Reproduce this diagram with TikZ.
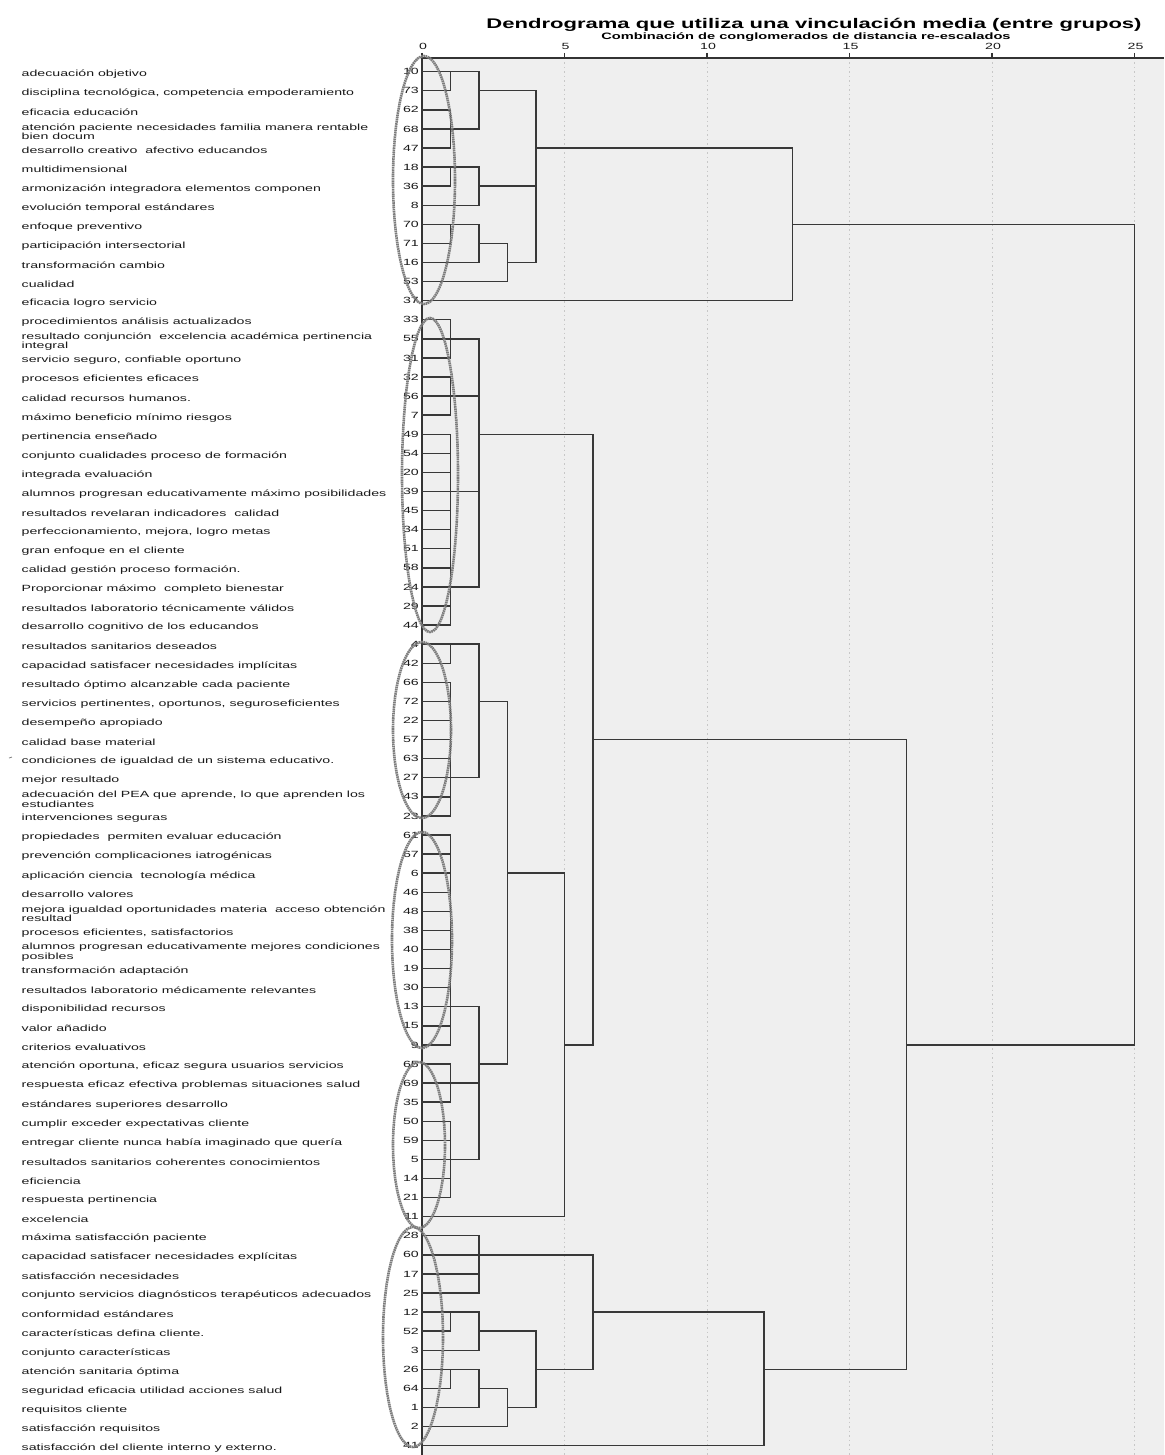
\documentclass[tikz,border=0pt]{standalone}
\usepackage{fontspec}
\setmainfont{Liberation Sans}[FakeStretch=1.58]
\definecolor{plotbg}{RGB}{239,239,239}
\definecolor{ringgray}{RGB}{125,125,125}
\tikzset{
  link/.style={draw=black!78, line width=1.4bp, line cap=rect},
  axisline/.style={draw=black!80, line width=1.3bp},
  gridline/.style={draw=black!22, line width=0.8bp, dash pattern=on 1.5bp off 3bp},
  idx/.style={anchor=east, inner sep=0pt, font=\fontsize{9}{9}\selectfont, text=black!90},
  lbl/.style={anchor=west, inner sep=0pt, align=left, font=\fontsize{9}{7.7}\selectfont, text=black!90},
  ticklbl/.style={inner sep=0pt, font=\fontsize{9}{9}\selectfont, text=black!90},
  ring/.style={draw=ringgray, line width=2.6bp, dash pattern=on 1.6bp off 0.6bp},
}
% one case: row, case number, first joining distance, text
\newcommand\leafrow[4]{%
  \node[idx] (n#2) at (419,{py(#1)}) {#2};
  \node[lbl] (t#2) at (21.5,{py(#1)+2.5}) {#4};
  \draw[link] ({px(0)},{py(#1)}) -- ({px(#3)},{py(#1)});
}
% one merge: distance, first row, last row, outgoing row, next distance
\newcommand\joinrows[5]{%
  \draw[link] ({px(#1)},{py(#2)}) -- ({px(#1)},{py(#3)});
  \draw[link] ({px(#1)},{py(#4)}) -- ({px(#5)},{py(#4)});
}
\begin{document}
\begin{tikzpicture}[x=1bp, y=-1bp,
  declare function={px(\d)=422+28.5*\d; py(\r)=71.7+19.083*(\r-1);}]
\useasboundingbox (0,0) rectangle (1164,1455);
\fill[white] (0,0) rectangle (1164,1455);
\fill[plotbg] (422,58) rectangle (1164,1455);

% title
\node[inner sep=0pt, font=\fontsize{14}{14}\selectfont\bfseries] (title) at (814,25)
  {Dendrograma que utiliza una vinculación media (entre grupos)};
\node[inner sep=0pt, font=\fontsize{9.3}{9.3}\selectfont\bfseries] (subtitle) at (806,37)
  {Combinación de conglomerados de distancia re-escalados};

% scale, grid and axes
\foreach \v in {5,10,15,20,25} \draw[gridline] ({px(\v)},58) -- ({px(\v)},1455);
\draw[axisline] (422,58) -- (1164,58);
\draw[axisline] (422,58) -- (422,1455);
\foreach \v in {0,5,10,15,20,25} {
  \draw[axisline] ({px(\v)},53) -- ({px(\v)},58);
  \node[ticklbl] (tick\v) at ({px(\v)+1},46) {\v};
}

% cases
\leafrow{1}{10}{1}{adecuación objetivo}
\leafrow{2}{73}{1}{disciplina tecnológica, competencia empoderamiento}
\leafrow{3}{62}{1}{eficacia educación}
\leafrow{4}{68}{1}{atención paciente necesidades familia manera rentable\\bien docum}
\leafrow{5}{47}{1}{desarrollo creativo\ \ afectivo educandos}
\leafrow{6}{18}{1}{multidimensional}
\leafrow{7}{36}{1}{armonización integradora elementos componen}
\leafrow{8}{8}{2}{evolución temporal estándares}
\leafrow{9}{70}{1}{enfoque preventivo}
\leafrow{10}{71}{1}{participación intersectorial}
\leafrow{11}{16}{2}{transformación cambio}
\leafrow{12}{53}{3}{cualidad}
\leafrow{13}{37}{13}{eficacia logro servicio}
\leafrow{14}{33}{1}{procedimientos análisis actualizados}
\leafrow{15}{55}{1}{resultado conjunción\ \ excelencia académica pertinencia\\integral}
\leafrow{16}{31}{1}{servicio seguro, confiable oportuno}
\leafrow{17}{32}{1}{procesos eficientes eficaces}
\leafrow{18}{56}{1}{calidad recursos humanos.}
\leafrow{19}{7}{1}{máximo beneficio mínimo riesgos}
\leafrow{20}{49}{1}{pertinencia enseñado}
\leafrow{21}{54}{1}{conjunto cualidades proceso de formación}
\leafrow{22}{20}{1}{integrada evaluación}
\leafrow{23}{39}{1}{alumnos progresan educativamente máximo posibilidades}
\leafrow{24}{45}{1}{resultados revelaran indicadores\ \ calidad}
\leafrow{25}{34}{1}{perfeccionamiento, mejora, logro metas}
\leafrow{26}{51}{1}{gran enfoque en el cliente}
\leafrow{27}{58}{1}{calidad gestión proceso formación.}
\leafrow{28}{24}{1}{Proporcionar máximo\ \ completo bienestar}
\leafrow{29}{29}{1}{resultados laboratorio técnicamente válidos}
\leafrow{30}{44}{1}{desarrollo cognitivo de los educandos}
\leafrow{31}{4}{1}{resultados sanitarios deseados}
\leafrow{32}{42}{1}{capacidad satisfacer necesidades implícitas}
\leafrow{33}{66}{1}{resultado óptimo alcanzable cada paciente}
\leafrow{34}{72}{1}{servicios pertinentes, oportunos, seguroseficientes}
\leafrow{35}{22}{1}{desempeño apropiado}
\leafrow{36}{57}{1}{calidad base material}
\leafrow{37}{63}{1}{condiciones de igualdad de un sistema educativo.}
\leafrow{38}{27}{1}{mejor resultado}
\leafrow{39}{43}{1}{adecuación del PEA que aprende, lo que aprenden los\\estudiantes}
\leafrow{40}{23}{1}{intervenciones seguras}
\leafrow{41}{61}{1}{propiedades\ \ permiten evaluar educación}
\leafrow{42}{67}{1}{prevención complicaciones iatrogénicas}
\leafrow{43}{6}{1}{aplicación ciencia\ \ tecnología médica}
\leafrow{44}{46}{1}{desarrollo valores}
\leafrow{45}{48}{1}{mejora igualdad oportunidades materia\ \ acceso obtención\\resultad}
\leafrow{46}{38}{1}{procesos eficientes, satisfactorios}
\leafrow{47}{40}{1}{alumnos progresan educativamente mejores condiciones\\posibles}
\leafrow{48}{19}{1}{transformación adaptación}
\leafrow{49}{30}{1}{resultados laboratorio médicamente relevantes}
\leafrow{50}{13}{1}{disponibilidad recursos}
\leafrow{51}{15}{1}{valor añadido}
\leafrow{52}{9}{1}{criterios evaluativos}
\leafrow{53}{65}{1}{atención oportuna, eficaz segura usuarios servicios}
\leafrow{54}{69}{1}{respuesta eficaz efectiva problemas situaciones salud}
\leafrow{55}{35}{1}{estándares superiores desarrollo}
\leafrow{56}{50}{1}{cumplir exceder expectativas cliente}
\leafrow{57}{59}{1}{entregar cliente nunca había imaginado que quería}
\leafrow{58}{5}{1}{resultados sanitarios coherentes conocimientos}
\leafrow{59}{14}{1}{eficiencia}
\leafrow{60}{21}{1}{respuesta pertinencia}
\leafrow{61}{11}{5}{excelencia}
\leafrow{62}{28}{2}{máxima satisfacción paciente}
\leafrow{63}{60}{2}{capacidad satisfacer necesidades explícitas}
\leafrow{64}{17}{2}{satisfacción necesidades}
\leafrow{65}{25}{2}{conjunto servicios diagnósticos terapéuticos adecuados}
\leafrow{66}{12}{1}{conformidad estándares}
\leafrow{67}{52}{1}{características defina cliente.}
\leafrow{68}{3}{2}{conjunto características}
\leafrow{69}{26}{1}{atención sanitaria óptima}
\leafrow{70}{64}{1}{seguridad eficacia utilidad acciones salud}
\leafrow{71}{1}{2}{requisitos cliente}
\leafrow{72}{2}{3}{satisfacción requisitos}
\leafrow{73}{41}{12}{satisfacción del cliente interno y externo.}
\draw[black!50, line width=0.8bp] (9,758) -- (12,757);

% merges, first group
\joinrows{1}{1}{2}{1}{2}
\joinrows{1}{3}{5}{4}{2}
\joinrows{2}{1}{4}{2}{4}
\joinrows{1}{6}{7}{6}{2}
\joinrows{2}{6}{8}{7}{4}
\joinrows{1}{9}{10}{9}{2}
\joinrows{2}{9}{11}{10}{3}
\joinrows{3}{10}{12}{11}{4}
\joinrows{4}{2}{11}{5}{13}
\joinrows{13}{5}{13}{9}{25}
% second group
\joinrows{1}{14}{16}{15}{2}
\joinrows{1}{17}{19}{18}{2}
\joinrows{1}{20}{30}{23}{2}
\draw[link] ({px(1)},{py(28)}) -- ({px(2)},{py(28)});
\joinrows{2}{15}{28}{20}{6}
% third group
\joinrows{1}{31}{32}{31}{2}
\joinrows{1}{33}{40}{38}{2}
\joinrows{2}{31}{38}{34}{3}
% fourth and fifth groups
\joinrows{1}{41}{52}{50}{2}
\joinrows{1}{53}{55}{54}{2}
\joinrows{1}{56}{60}{58}{2}
\joinrows{2}{50}{58}{53}{3}
\joinrows{3}{34}{53}{43}{5}
\joinrows{5}{43}{61}{52}{6}
\joinrows{6}{20}{52}{36}{17}
% last group
\joinrows{2}{62}{65}{63}{6}
\joinrows{1}{66}{67}{66}{2}
\joinrows{2}{66}{68}{67}{4}
\joinrows{1}{69}{70}{69}{2}
\joinrows{2}{69}{71}{70}{3}
\joinrows{3}{70}{72}{71}{4}
\joinrows{4}{67}{71}{69}{6}
\joinrows{6}{63}{69}{66}{12}
\joinrows{12}{66}{73}{69}{17}
\joinrows{17}{36}{69}{52}{25}
\draw[link] ({px(25)},{py(9)}) -- ({px(25)},{py(52)});

% hand-drawn rings round the groups of case numbers
\draw[ring] (424,180) ellipse [x radius=31, y radius=124];
\draw[ring] (430,475) ellipse [x radius=28, y radius=157];
\draw[ring] (422,730) ellipse [x radius=29, y radius=88];
\draw[ring] (422,940) ellipse [x radius=30, y radius=108];
\draw[ring] (419,1145) ellipse [x radius=26, y radius=83];
\draw[ring] (413,1337) ellipse [x radius=30, y radius=110];
\end{tikzpicture}
\end{document}
